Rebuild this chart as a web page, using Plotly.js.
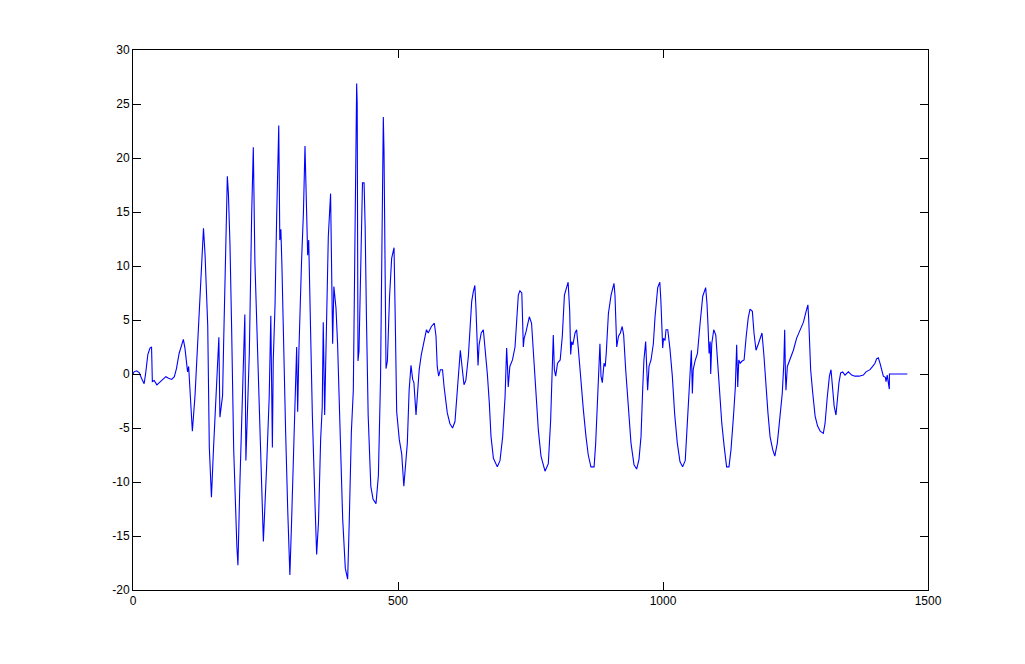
<!DOCTYPE html>
<html>
<head>
<meta charset="utf-8">
<script src="https://cdn.plot.ly/plotly-3.0.1.min.js"></script>
<style>
  html, body { margin: 0; padding: 0; background: #fff; }
  #chart { width: 1025px; height: 664px; }
</style>
</head>
<body>
<div id="chart"></div>
<script>
// sample index / value pairs
const sampleX = [
  0, 2, 7, 12, 16, 21, 24, 28, 32, 35, 36.5, 40, 45, 50, 55, 62, 67, 73, 78, 82,
  87, 92, 95, 98, 101, 103, 105, 106, 109, 112, 117, 126, 133, 136, 141, 144, 148, 152, 157, 162,
  164, 169, 171, 175, 178, 180, 183, 186, 190, 196, 198, 201.5, 206.5, 211, 213, 216, 219.5, 224, 227, 230,
  233, 238, 243, 246, 252, 257, 260, 263, 264.6, 268, 271, 275, 277, 279, 281, 283.6, 288, 292, 296, 299,
  302.5, 306, 308.8, 310.7, 313, 318, 321.6, 324.5, 327.7, 329.6, 331.5, 334, 338.4, 343.4, 346.5, 350, 354, 357, 359, 361.6,
  364, 368.5, 372.8, 375, 376.7, 379, 383, 386, 390.6, 395.6, 400.6, 405, 408, 412, 415.7, 418.8, 422, 423, 424.5, 426.4,
  429.5, 433, 436, 438, 440.5, 443.7, 448.7, 453, 458.5, 463, 467, 471, 472.3, 473.6, 477.4, 480, 484, 488, 492.5, 495,
  497.5, 502.5, 507, 511, 516, 517.6, 521, 524.5, 527.7, 530, 534, 536, 540, 544, 548.6, 553.7, 557, 563, 568.6, 571.7,
  574, 576.7, 580, 584, 587, 593, 598, 603, 607.5, 612, 615.7, 617.6, 620.8, 624.5, 628, 632.7, 635.8, 639, 642, 645,
  647, 649, 651, 653, 657, 661, 664, 668.6, 672.3, 675.5, 680, 687.4, 692.5, 697.5, 702, 705, 706.6, 708, 711, 716,
  720.8, 724, 727, 730, 733.6, 736.5, 738, 741.5, 747.8, 752, 756.6, 761.6, 764.8, 769.8, 777.4, 783.6, 788, 791, 793, 795,
  797.5, 801, 806, 810, 814, 818, 821, 823.9, 825.8, 827.7, 830, 834, 837, 840, 844.6, 849.7, 854.7, 859, 864, 870,
  873, 876.2, 879.3, 881, 883, 885.5, 888.7, 891, 893, 897, 902, 907.5, 909.4, 911, 912.7, 916, 919.5, 923, 925.8, 929.6,
  934.6, 939.6, 945.3, 950.3, 954.7, 958.5, 961.6, 964, 967.3, 969, 971, 973.6, 977.4, 981.8, 985, 990, 994, 996, 998, 999.4,
  1001, 1003.8, 1005.7, 1009, 1013, 1017.6, 1022, 1027, 1032, 1037, 1042, 1046.5, 1049.7, 1052, 1053.5, 1055.4, 1057, 1060.4, 1065, 1070,
  1075, 1080.5, 1083, 1085, 1087, 1089, 1090, 1092, 1095.8, 1099.6, 1102.8, 1106.6, 1111, 1115.4, 1120, 1124.5, 1128.3, 1133, 1136.5, 1139,
  1141, 1143, 1145.6, 1149.4, 1153, 1157, 1160.8, 1164.2, 1168.6, 1171.7, 1175.5, 1180, 1183, 1186.8, 1190.6, 1194.3, 1198, 1202, 1207, 1211,
  1215.7, 1220.8, 1225, 1228, 1229.6, 1231, 1232, 1234.6, 1239.6, 1246, 1252, 1258.5, 1265, 1270, 1273.4, 1274.8, 1276.6, 1278.6, 1282.6, 1287,
  1291.5, 1296.6, 1302.5, 1305.7, 1310, 1314, 1317, 1320, 1323, 1326.4, 1329, 1332, 1335.2, 1339, 1343.4, 1349.7, 1356, 1362, 1370, 1378,
  1383, 1390.6, 1395.6, 1400, 1403, 1406.3, 1409.4, 1412.6, 1415.7, 1419.5, 1420.8, 1423, 1425, 1427, 1427.2, 1431.4, 1461
];
const sampleY = [
  0, 0.2, 0.3, 0.1, -0.4, -0.9, 0.1, 1.8, 2.4, 2.5, -0.7, -0.6, -1.0, -0.8, -0.6, -0.25, -0.4, -0.5, -0.25, 0.5,
  1.9, 2.8, 3.2, 2.4, 1.3, 0.2, 0.7, -0.2, -2.4, -5.3, -2, 7.4, 13.5, 11, 4.5, -6.8, -11.4, -6.8, -1.8, 3.4,
  -4, -2, 2.8, 11.7, 18.3, 16.7, 12, 4.5, -7, -16, -17.7, -10.4, -2.8, 5.5, -8, -3.8, 2, 15, 21, 10.4,
  5.1, -3.8, -12, -15.5, -8.7, -2.1, 5.4, -6.8, 1.2, 6.4, 14.4, 23, 12.4, 13.4, 10, 3.5, -5.4, -12.7, -18.6, -14,
  -7.8, -0.8, 2.5, -3.5, 2.1, 10.4, 15, 21.1, 15, 11, 12.4, 5.1, -3.8, -12, -16.7, -13.7, -6.1, -3.1, 4.8, -3.8,
  2.5, 12.7, 16.7, 10.4, 2.8, 8.1, 6.1, 2.8, -5.4, -13.4, -18, -19, -13.7, -5.4, -1.5, 11, 26.9, 25, 1.2, 2.1,
  10.4, 17.7, 17.7, 13.7, 5.1, -3.8, -10.4, -11.6, -12, -9.4, -0.5, 14.4, 23.8, 20.6, 0.5, 1.2, 7.1, 10.7, 11.7, 4.5,
  -3.5, -6.1, -7.4, -10.4, -7.8, -6.4, -1.5, 0.8, -0.5, -0.8, -3.8, -2.1, 0.4, 1.8, 3.0, 4.1, 3.8, 4.4, 4.7, 3.5,
  0.7, -0.2, 0.4, 0.4, -1.2, -3.6, -4.6, -5.0, -4.4, -1.8, 0.4, 2.2, 0.7, -1.0, -0.6, 1.6, 4.1, 6.7, 7.6, 8.2,
  6.2, 2.2, 0.8, 2.7, 3.8, 4.1, 2.5, 0, -2.7, -5.8, -7.8, -8.6, -8, -5.8, -2.1, 2.4, 0.7, -1.2, 0.7, 1.3,
  2.5, 5.3, 7.3, 7.7, 7.5, 2.5, 3.3, 3.9, 5.3, 4.7, 1.6, -2.7, -5.2, -7.6, -9.0, -8.3, -4.3, 0, 3.6, 0.4,
  -0.2, 1.0, 1.3, 3.5, 7.3, 8.0, 8.5, 5.9, 1.8, 3.0, 2.7, 3.8, 4.1, 2.5, -0.6, -3.3, -5.8, -7.5, -8.6, -8.6,
  -6.4, -2.1, 1.3, 2.8, -0.2, -0.8, 1.0, 0.7, 2.0, 5.6, 7.3, 8.4, 7.3, 4.4, 2.5, 3.5, 3.8, 4.4, 3.6, 0.4,
  -3.3, -6.4, -8.4, -8.8, -7.9, -5.8, -1.5, 1.3, 3.0, 0.4, -1.5, 0.7, 1.3, 2.8, 5.3, 8.0, 8.5, 6.8, 4.1, 2.4,
  3.3, 3.1, 4.1, 4.1, 2.4, -0.2, -3.7, -6.4, -8.1, -8.6, -8.0, -3.9, -0.6, 1.8, 2.2, -1.8, 0.4, 1.2, 1.9, 4.7,
  7.2, 8.0, 6.5, 4.4, 1.9, 3.0, 0, 2.8, 4.1, 3.6, 1.3, -2.1, -4.6, -6.7, -8.6, -8.6, -7.0, -3.9, -1.2, 2.7,
  -1.2, 1.3, 1.0, 1.2, 1.3, 3.5, 5.2, 6.0, 5.8, 3.8, 2.2, 2.8, 3.3, 3.8, 1.6, -1.2, -3.6, -5.8, -7.0, -7.6,
  -6.4, -3.9, -1.8, 1.0, 4.1, 0, -1.5, 0.7, 1.3, 2.2, 3.3, 4.0, 4.8, 5.8, 6.4, 5.2, 2.0, 0.4, -1.8, -3.9,
  -4.8, -5.3, -5.5, -4.6, -2.1, -0.2, 0.4, -1.2, -3.0, -3.8, -2.4, -0.8, 0.1, 0.2, -0.1, 0.2, -0.1, -0.2, -0.2, -0.1,
  0.2, 0.4, 0.7, 1.0, 1.4, 1.5, 1.0, 0.4, -0.2, -0.3, -0.7, -0.1, -0.8, -1.4, 0, 0, 0
];

const xTicks = [0, 500, 1000, 1500];
const yTicks = [-20, -15, -10, -5, 0, 5, 10, 15, 20, 25, 30];

const axisStyle = {
  showline: true, mirror: 'allticks', linecolor: '#000', linewidth: 1,
  ticks: 'inside', ticklen: 8, tickcolor: '#000', tickwidth: 1,
  showgrid: false, zeroline: false,
  tickfont: { family: 'Liberation Sans, Arial, sans-serif', size: 12, color: '#000' },
};

Plotly.newPlot('chart', [{
  type: 'scatter', mode: 'lines',
  x: sampleX, y: sampleY,
  line: { color: 'rgb(0,0,255)', width: 1.1 },
  hoverinfo: 'skip',
}], {
  width: 1025, height: 664,
  margin: { l: 133, r: 97, t: 50, b: 74 },
  paper_bgcolor: '#fff', plot_bgcolor: '#fff',
  showlegend: false,
  xaxis: { ...axisStyle, range: [0, 1500], tickvals: xTicks, ticktext: xTicks.map(String) },
  yaxis: { ...axisStyle, range: [-20, 30], tickvals: yTicks, ticktext: yTicks.map(String) },
}, { staticPlot: true, displayModeBar: false });
</script>
</body>
</html>
